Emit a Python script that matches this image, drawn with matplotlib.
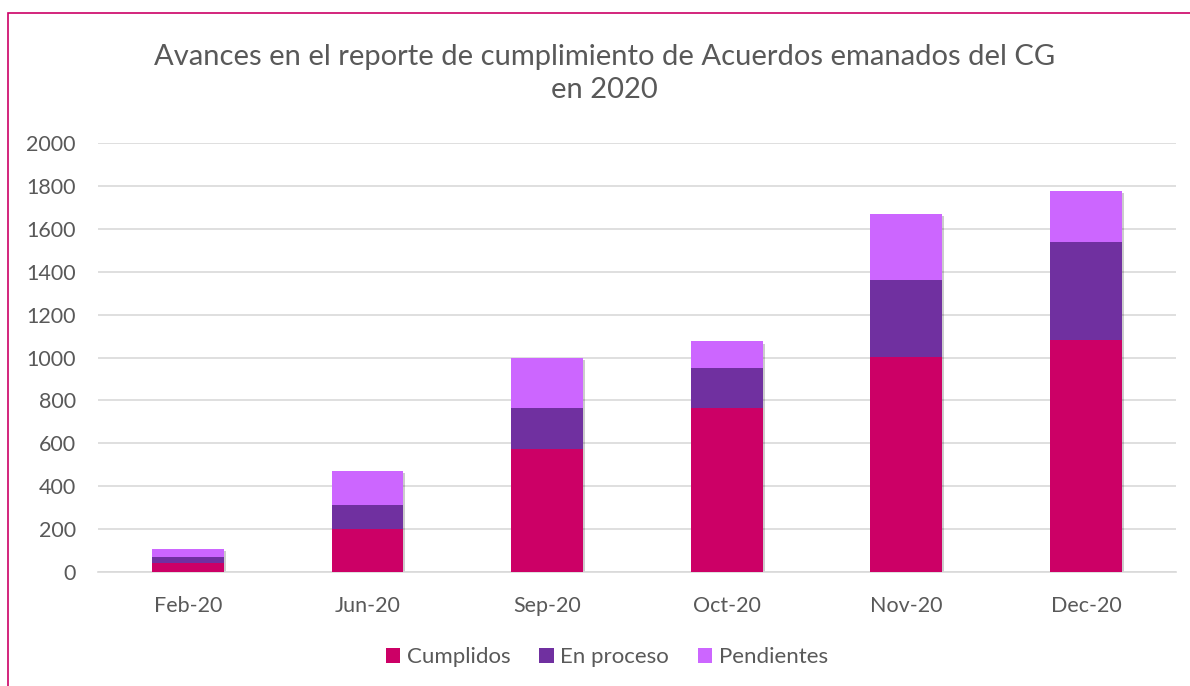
import matplotlib.pyplot as plt
import matplotlib.patheffects as pe
import numpy as np
from matplotlib.patches import Rectangle

months = ['Feb-20', 'Jun-20', 'Sep-20', 'Oct-20', 'Nov-20', 'Dec-20']
cumplidos = [40, 200, 575, 763, 1002, 1080]
en_proceso = [31, 112, 188, 189, 359, 457]
pendientes = [35, 159, 233, 123, 309, 239]

colors = ['#CC0066', '#7030A0', '#CC66FF']
text_color = '#595959'

plt.rcParams['font.family'] = ['Lato', 'DejaVu Sans']

fig = plt.figure(figsize=(11.9, 6.86), dpi=100)
ax = fig.add_axes([0.0824, 0.1662, 0.9056, 0.6253])

# outer frame (only top/left visible in the reference)
fig.patches.append(Rectangle((8 / 1190, -0.1), 1.2, 1 - 13 / 686 + 0.1,
                             transform=fig.transFigure, fill=False,
                             edgecolor='#CC0066', linewidth=1.2))

x = np.arange(len(months))
width = 0.4
totals = np.array(cumplidos) + np.array(en_proceso) + np.array(pendientes)

# soft shadow behind each whole stack
shadow_bars = ax.bar(x, totals, width, color='white', zorder=2)
for b in shadow_bars:
    b.set_path_effects([pe.SimplePatchShadow(offset=(1.5, -1.5), shadow_rgbFace='#000000', alpha=0.2)])

bottom = np.zeros(len(months))
for vals, c, lab in zip([cumplidos, en_proceso, pendientes], colors,
                        ['Cumplidos', 'En proceso', 'Pendientes']):
    ax.bar(x, vals, width, bottom=bottom, color=c, label=lab, zorder=3)
    bottom += np.array(vals)

ax.set_xlim(-0.5, len(months) - 0.5)
ax.set_ylim(0, 2000)
ax.set_yticks(range(0, 2001, 200))
ax.set_xticks(x)
ax.set_xticklabels(months)
ax.tick_params(length=0, labelsize=15.5, labelcolor=text_color)
ax.tick_params(axis='x', pad=17)
ax.tick_params(axis='y', pad=16)
ax.grid(axis='y', color='#D9D9D9', linewidth=1.2, zorder=0)
ax.set_axisbelow(True)
for s in ['top', 'right', 'left']:
    ax.spines[s].set_visible(False)
ax.spines['bottom'].set_color('#D9D9D9')
ax.spines['bottom'].set_linewidth(1.2)

fig.text(0.508, 0.893, 'Avances en el reporte de cumplimiento de Acuerdos emanados del CG\nen 2020',
         ha='center', va='center', fontsize=21, color=text_color, linespacing=1.3)

leg = fig.legend(loc='center', bbox_to_anchor=(0.51, 0.042), ncol=3, frameon=False,
                 fontsize=16, handlelength=0.65, handleheight=0.65, handletextpad=0.3,
                 columnspacing=1.3)
for t in leg.get_texts():
    t.set_color(text_color)

fig.savefig('out.png', dpi=100)
